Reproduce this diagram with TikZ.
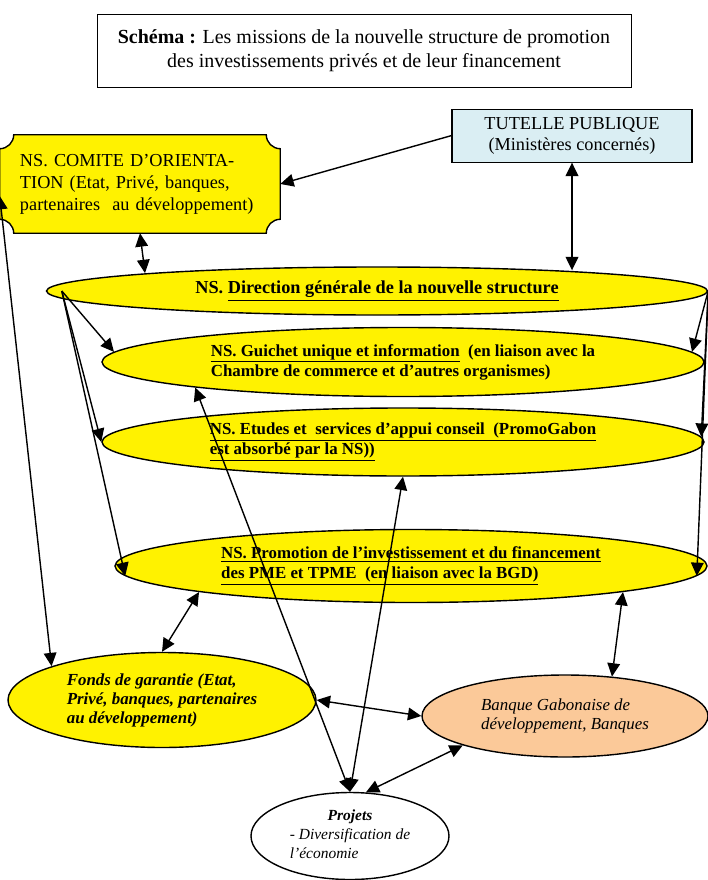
\documentclass[tikz,border=0pt]{standalone}
\usepackage{fontspec}
\setmainfont{Liberation Serif}
\usetikzlibrary{shapes.geometric,arrows.meta,backgrounds,calc}
\definecolor{bleuclair}{HTML}{DAEEF3}
\definecolor{peche}{HTML}{FBC999}
\tikzstyle{bulle}=[ellipse, draw=black, fill=yellow, line width=1pt, inner sep=0pt, align=left, font=\fontsize{12}{14.2}\selectfont\bfseries]
\tikzstyle{boite}=[rectangle, draw=black, align=center]
\tikzstyle{fleche}=[->, line width=1pt]
\tikzstyle{dfleche}=[<->, line width=1pt]

\begin{document}
\begin{tikzpicture}[>={Triangle[length=9.5pt,width=9pt]}]
\useasboundingbox (0,0) rectangle (17.7,-22);

\node (titre) at (9.1,-1.2625) [boite, line width=0.5pt, minimum width=13.35cm, minimum height=1.825cm, font=\fontsize{14.2}{17.5}\selectfont] {\textbf{Schéma :} Les missions de la nouvelle structure de promotion\\des investissements privés et de leur financement};
\node (tutelle) at (14.3,-3.39) [boite, fill=bleuclair, line width=0.8pt, minimum width=6cm, minimum height=1.325cm, font=\fontsize{13}{15}\selectfont] {TUTELLE PUBLIQUE\\(Ministères concernés)};
\node (comite) at (3.5,-4.6) [minimum width=7cm, minimum height=2.45cm, text width=6cm, align=left, font=\fontsize{13}{15.6}\selectfont] {NS. COMITE D'ORIENTA-\\TION (Etat, Privé, banques,\\partenaires~~au développement)};

% plaque du comite
\begin{scope}[on background layer]
\draw[fill=yellow, line width=1pt] ([xshift=0.35cm]comite.north west) -- ([xshift=-0.35cm]comite.north east)
  arc[start angle=180, end angle=270, radius=0.35cm] -- ([yshift=0.35cm]comite.south east)
  arc[start angle=90, end angle=180, radius=0.35cm] -- ([xshift=0.35cm]comite.south west)
  arc[start angle=0, end angle=90, radius=0.35cm] -- ([yshift=-0.35cm]comite.north west)
  arc[start angle=270, end angle=360, radius=0.35cm] -- cycle;
\end{scope}

\node (direction) at (9.425,-7.275) [bulle, minimum width=16.525cm, minimum height=1.2cm, font=\fontsize{13}{15}\selectfont\bfseries] {NS. \underline{Direction générale de la nouvelle structure}};
\node (guichet) at (10.075,-9.05) [bulle, minimum width=15.05cm, minimum height=1.725cm] {\underline{NS. Guichet unique et information}~~(en liaison avec la\\Chambre de commerce et d'autres organismes)};
\node (etudes) at (10.075,-11.05) [bulle, minimum width=15.05cm, minimum height=1.7cm] {\underline{NS. Etudes et~~services d'appui conseil~~(PromoGabon}\\\underline{est absorbé par la NS))}};
\node (promotion) at (10.275,-14.15) [bulle, minimum width=14.8cm, minimum height=1.825cm] {\underline{NS. Promotion de l'investissement et du financement}\\\underline{des PME et TPME~~(en liaison avec la BGD)}};
\node (fonds) at (4.05,-17.5) [bulle, minimum width=7.7cm, minimum height=2.375cm, font=\fontsize{12}{13.5}\selectfont\bfseries\itshape] {Fonds de garantie (Etat,\\Privé, banques, partenaires\\au développement)};
\node (banque) at (14.125,-17.9) [bulle, fill=peche, minimum width=7.15cm, minimum height=2.05cm, font=\fontsize{12}{14}\selectfont\itshape] {Banque Gabonaise de\\développement, Banques};
\node (projets) at (8.75,-20.9) [bulle, fill=white, minimum width=4.95cm, minimum height=2.175cm, font=\fontsize{11}{13.5}\selectfont\itshape] {\begin{tabular}{@{}l@{}}\multicolumn{1}{@{}c@{}}{\textbf{Projets}}\\- Diversification de\\l'économie\end{tabular}};

\draw[fleche] (tutelle.west) -- (comite.east);
\draw[dfleche] (tutelle.south) -- ($(tutelle.south |- direction.north)+(0,-0.1)$);
\draw[dfleche] (comite.south) -- ($(comite.south |- direction.north)+(0.125,-0.17)$);
\draw[dfleche] ([yshift=-0.3cm]comite.west) -- (fonds.163);

\draw[fleche] ([xshift=0.4cm]direction.west) -- (guichet.178);
\draw[fleche] ([xshift=0.4cm]direction.west) -- (etudes.west);
\draw[fleche] ([xshift=0.4cm]direction.west) -- (promotion.182);
\draw[fleche] (direction.east) -- (guichet.2);
\draw[fleche] (direction.east) -- (etudes.1.5);
\draw[fleche] (direction.east) -- (promotion.358.5);

\draw[dfleche] (promotion.187.8) -- (fonds.north);
\draw[dfleche] (promotion.353.5) -- (banque.40);
\draw[dfleche] (fonds.east) -- (banque.west);
\draw[dfleche] (guichet.187.3) -- (projets.north);
\draw[dfleche] (etudes.south) -- (projets.north);
\draw[dfleche] (banque.196) -- (projets.70);
\end{tikzpicture}
\end{document}
